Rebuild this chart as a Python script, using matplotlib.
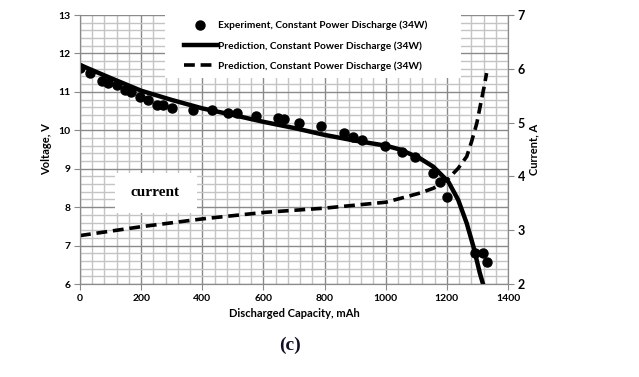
import matplotlib.pyplot as plt
import numpy as np
from matplotlib.patches import Rectangle
from matplotlib.ticker import MultipleLocator

# experiment, voltage (V) vs discharged capacity (mAh)
exp_cap = [0, 33, 71, 93, 120, 147, 167, 196, 221, 251, 272, 300, 368, 433, 485,
           515, 576, 647, 667, 717, 788, 862, 894, 922, 998, 1052, 1096, 1156,
           1178, 1200, 1292, 1319, 1330]
exp_volt = [11.62, 11.50, 11.28, 11.22, 11.18, 11.05, 11.00, 10.87, 10.79, 10.66,
            10.66, 10.57, 10.53, 10.53, 10.44, 10.44, 10.37, 10.31, 10.29, 10.20,
            10.10, 9.92, 9.83, 9.76, 9.59, 9.44, 9.30, 8.88, 8.66, 8.27, 6.81,
            6.81, 6.56]

# predicted voltage
pred_cap = [0, 100, 200, 300, 400, 500, 600, 700, 800, 900, 1000, 1047, 1112,
            1156, 1205, 1237, 1265, 1287, 1308, 1322]
pred_volt = [11.70, 11.36, 11.03, 10.79, 10.57, 10.40, 10.22, 10.06, 9.88, 9.73,
             9.60, 9.50, 9.27, 9.05, 8.66, 8.19, 7.58, 6.97, 6.28, 5.90]

# predicted current
cur_cap = [0, 200, 400, 600, 800, 1000, 1047, 1112, 1156, 1205, 1237, 1265,
           1281, 1298, 1311, 1322, 1330]
cur_amp = [2.90, 3.065, 3.21, 3.33, 3.41, 3.52, 3.59, 3.69, 3.78, 3.96, 4.15,
           4.37, 4.65, 4.99, 5.36, 5.67, 5.92]

plt.rcParams['font.family'] = ['Lato', 'DejaVu Sans']

fig = plt.figure(figsize=(6.39, 3.77), dpi=100)
ax = fig.add_axes([80 / 639, 1 - 284 / 377, 428 / 639, 269 / 377])

ax.set_xlim(0, 1400)
ax.set_ylim(6, 13)
ax.xaxis.set_major_locator(MultipleLocator(200))
ax.xaxis.set_minor_locator(MultipleLocator(40))
ax.yaxis.set_major_locator(MultipleLocator(1))
ax.yaxis.set_minor_locator(MultipleLocator(0.2))
ax.set_axisbelow(True)
ax.grid(which='major', color='#8a8a8a', lw=1.0, zorder=0)
ax.grid(which='minor', color='#c4c4c4', lw=1.0, zorder=0)
ax.tick_params(which='minor', length=0)
ax.tick_params(which='major', length=4, color='#8a8a8a', labelsize=7.5, pad=3)
for lab in ax.get_xticklabels() + ax.get_yticklabels():
    lab.set_fontweight('bold')
for s in ['left', 'bottom', 'right']:
    ax.spines[s].set_color('#8a8a8a')
ax.spines['top'].set_visible(False)

# white boxes behind legend and "current" label
ax.add_patch(Rectangle((85 / 428, (284 - 78) / 269), (461 - 165) / 428, 63 / 269,
                       transform=ax.transAxes, facecolor='white', edgecolor='none',
                       zorder=1, clip_on=False))
ax.add_patch(Rectangle((35 / 428, (284 - 213) / 269), 82 / 428, 40 / 269,
                       transform=ax.transAxes, facecolor='white', edgecolor='none',
                       zorder=1))
ax.text(75 / 428, (284 - 193) / 269, 'current', transform=ax.transAxes,
        family='Liberation Serif', fontweight='bold', fontsize=11,
        ha='center', va='center', zorder=2)

h1, = ax.plot(exp_cap, exp_volt, 'o', color='black', ms=6.5, zorder=3,
              label='Experiment, Constant Power Discharge (34W)')
h2, = ax.plot(pred_cap, pred_volt, '-', color='black', lw=3.2, zorder=3,
              label='Prediction, Constant Power Discharge (34W)')

ax.set_xlabel('Discharged Capacity, mAh', fontsize=8, fontweight='bold', labelpad=4)
ax.set_ylabel('Voltage, V', fontsize=8, fontweight='bold', labelpad=4)

ax2 = ax.twinx()
ax2.set_ylim(2, 7)
ax2.yaxis.set_major_locator(MultipleLocator(1))
ax2.tick_params(length=4, color='#8a8a8a', labelsize=9, pad=3)
for lab in ax2.get_yticklabels():
    lab.set_fontweight('bold')
for s in ['left', 'bottom', 'right']:
    ax2.spines[s].set_color('#8a8a8a')
ax2.spines['top'].set_visible(False)
h3, = ax2.plot(cur_cap, cur_amp, '--', color='black', lw=2.6, dashes=(3, 1.6),
               label='Prediction, Constant Power Discharge (34W)')
ax2.set_ylabel('Current, A', fontsize=8, fontweight='bold', labelpad=2)

leg = ax2.legend([h1, h2, h3], [h1.get_label(), h2.get_label(), h3.get_label()],
                 loc='upper left', bbox_to_anchor=(100 / 428, 0.994),
                 frameon=False, fontsize=7.3, handlelength=3.2, handletextpad=0.15,
                 labelspacing=1.07, borderaxespad=0)
for t in leg.get_texts():
    t.set_fontweight('bold')

fig.text(290 / 639, 1 - 345 / 377, '(c)', family='Liberation Serif',
         fontweight='bold', fontsize=14, ha='center', va='center', color='#10102a')

fig.savefig('out.png', dpi=100)
